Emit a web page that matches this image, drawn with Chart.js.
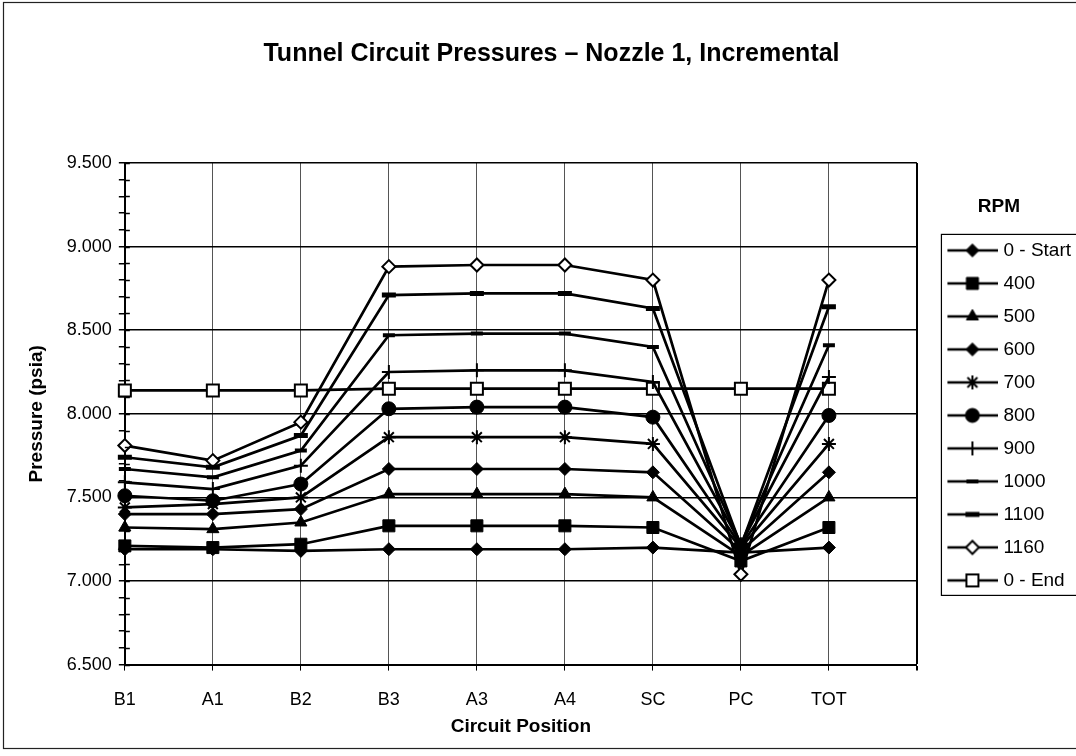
<!DOCTYPE html>
<html>
<head>
<meta charset="utf-8">
<script src="https://cdn.jsdelivr.net/npm/chart.js@4.4.1/dist/chart.umd.min.js"></script>
<style>
  html, body { margin: 0; padding: 0; background: #fff; }
  #wrap { width: 1076px; height: 756px; overflow: hidden; }
  canvas { display: block; }
</style>
</head>
<body>
<div id="wrap"><canvas id="myChart" width="1090" height="756"></canvas></div>
<script>
"use strict";

// circuit positions, last slot is left empty like the original sheet
const positions = ["B1", "A1", "B2", "B3", "A3", "A4", "SC", "PC", "TOT", ""];
const rpmNames = ["0 - Start", "400", "500", "600", "700", "800", "900", "1000", "1100", "1160", "0 - End"];

const rpm0Start = [7.19, 7.19, 7.18, 7.19, 7.19, 7.19, 7.20, 7.17, 7.20];
const rpm400 = [7.21, 7.20, 7.22, 7.33, 7.33, 7.33, 7.32, 7.12, 7.32];
const rpm500 = [7.32, 7.31, 7.35, 7.52, 7.52, 7.52, 7.50, 7.15, 7.50];
const rpm600 = [7.40, 7.40, 7.43, 7.67, 7.67, 7.67, 7.65, 7.18, 7.65];
const rpm700 = [7.44, 7.46, 7.50, 7.86, 7.86, 7.86, 7.82, 7.20, 7.82];
const rpm800 = [7.51, 7.48, 7.58, 8.03, 8.04, 8.04, 7.98, 7.21, 7.99];
const rpm900 = [7.59, 7.55, 7.69, 8.25, 8.26, 8.26, 8.19, 7.22, 8.22];
const rpm1000 = [7.67, 7.62, 7.78, 8.47, 8.48, 8.48, 8.40, 7.22, 8.41];
const rpm1100 = [7.74, 7.68, 7.87, 8.71, 8.72, 8.72, 8.63, 7.21, 8.64];
const rpm1160 = [7.81, 7.72, 7.95, 8.88, 8.89, 8.89, 8.80, 7.04, 8.80];
const rpm0End = [8.14, 8.14, 8.14, 8.15, 8.15, 8.15, 8.15, 8.15, 8.15];

const yMin = 6.5;
const yMax = 9.5;

const seriesData = [rpm0Start, rpm400, rpm500, rpm600, rpm700, rpm800, rpm900, rpm1000, rpm1100, rpm1160, rpm0End];

// marker look for each series (excel style)
const markers = [
  { style: "rectRot", radius: 6.5, border: 1, fill: "#000" },
  { style: "rect", radius: 8.5, border: 1, fill: "#000" },
  { style: "triangle", radius: 7, border: 1, fill: "#000" },
  { style: "rectRot", radius: 6.5, border: 1, fill: "#000" },
  { style: "star", radius: 7, border: 2, fill: "#000" },
  { style: "circle", radius: 7, border: 1, fill: "#000" },
  { style: "cross", radius: 7, border: 2, fill: "#000" },
  { style: "line", radius: 6, border: 4, fill: "#000" },
  { style: "line", radius: 7, border: 5, fill: "#000" },
  { style: "rectRot", radius: 6.5, border: 2, fill: "#fff" },
  { style: "rect", radius: 8.5, border: 2, fill: "#fff" },
];

const font = "'Liberation Sans', Arial, sans-serif";
const iconW = 72;
const iconH = 22;

const makeIcon = (m) => {
  const c = document.createElement("canvas");
  c.width = iconW;
  c.height = iconH;
  const ctx = c.getContext("2d");
  ctx.strokeStyle = "#000";
  ctx.lineWidth = 2.5;
  ctx.beginPath();
  ctx.moveTo(21, iconH / 2);
  ctx.lineTo(iconW, iconH / 2);
  ctx.stroke();
  ctx.fillStyle = m.fill;
  ctx.lineWidth = m.border;
  Chart.helpers.drawPoint(
    ctx,
    { pointStyle: m.style, radius: m.radius, borderWidth: m.border, rotation: 0 },
    46,
    iconH / 2
  );
  return c;
};

const isMajor = (v) => Math.round(v * 10) % 5 === 0;

const datasets = rpmNames.map((name, i) => ({
  label: name,
  data: seriesData[i],
  borderColor: "#000",
  borderWidth: 2.7,
  pointStyle: markers[i].style,
  pointRadius: markers[i].radius,
  pointBorderWidth: markers[i].border,
  pointBackgroundColor: markers[i].fill,
  pointBorderColor: "#000",
  tension: 0,
  fill: false,
}));

const framePlugin = {
  id: "frame",
  beforeDraw(chart) {
    const ctx = chart.ctx;
    ctx.save();
    ctx.fillStyle = "#fff";
    ctx.fillRect(0, 0, chart.width, chart.height);
    ctx.strokeStyle = "#222";
    ctx.lineWidth = 1.2;
    ctx.strokeRect(3.5, 2.5, chart.width - 6, 746);
    ctx.restore();
  },
  afterDraw(chart) {
    const ctx = chart.ctx;
    // inner half of the y axis tick marks
    const y = chart.scales.y;
    ctx.save();
    ctx.strokeStyle = "#000";
    ctx.lineWidth = 1.5;
    y.ticks.forEach((t) => {
      const py = Math.round(y.getPixelForValue(t.value)) + 0.5;
      ctx.beginPath();
      ctx.moveTo(y.right, py);
      ctx.lineTo(y.right + 5, py);
      ctx.stroke();
    });
    // box around legend items
    const boxes = chart.legend.legendHitBoxes;
    if (boxes && boxes.length) {
      const left = Math.min(...boxes.map((b) => b.left));
      const top = Math.min(...boxes.map((b) => b.top));
      const bottom = Math.max(...boxes.map((b) => b.top + b.height));
      const right = Math.max(...boxes.map((b) => b.left + b.width));
      ctx.lineWidth = 1.2;
      ctx.strokeRect(left + 10.5, top - 6.5, right - left + 4, bottom - top + 12);
    }
    ctx.restore();
  },
};

const config = {
  type: "line",
  data: { labels: positions, datasets },
  options: {
    responsive: false,
    animation: false,
    events: [],
    layout: { padding: { left: 22, right: 9, top: 10, bottom: 14 } },
    scales: {
      x: {
        grid: {
          color: (c) => (c.index === positions.length - 1 ? "#000" : "#555"),
          lineWidth: (c) => (c.index === positions.length - 1 ? 2 : 1),
          tickColor: "#000",
          tickLength: 6,
        },
        border: { color: "#000", width: 2 },
        ticks: {
          autoSkip: false,
          maxRotation: 0,
          padding: 19,
          color: "#000",
          font: { family: font, size: 18 },
        },
        title: {
          display: true,
          text: "Circuit Position",
          color: "#000",
          font: { family: font, size: 19, weight: "bold" },
          padding: { top: -15, bottom: 4 },
        },
      },
      y: {
        min: yMin,
        max: yMax,
        grid: {
          color: (c) => (c.tick && isMajor(c.tick.value) ? "#000" : "rgba(0,0,0,0)"),
          lineWidth: 1.5,
          tickColor: "#000",
          tickWidth: 1.5,
          tickLength: 6,
        },
        border: { color: "#000", width: 2 },
        ticks: {
          stepSize: 0.1,
          autoSkip: false,
          padding: 7,
          color: "#000",
          font: { family: font, size: 18 },
          callback: (v) => (isMajor(v) ? (Math.round(v * 10) / 10).toFixed(3) : ""),
        },
        title: {
          display: true,
          text: "Pressure (psia)",
          color: "#000",
          font: { family: font, size: 19, weight: "bold" },
          padding: { top: 3, bottom: 12 },
        },
      },
    },
    plugins: {
      title: {
        display: true,
        text: "Tunnel Circuit Pressures \u2013 Nozzle 1, Incremental",
        color: "#000",
        font: { family: font, size: 25, weight: "bold" },
        padding: { top: 29, bottom: 94 },
      },
      legend: {
        position: "right",
        title: {
          display: true,
          text: "RPM",
          color: "#000",
          font: { family: font, size: 19, weight: "bold" },
          padding: { top: 49, bottom: 7 },
        },
        labels: {
          color: "#000",
          font: { family: font, size: 19 },
          usePointStyle: true,
          pointStyleWidth: 63,
          padding: 14,
          generateLabels: (chart) =>
            chart.data.datasets.map((ds, i) => ({
              text: ds.label,
              pointStyle: makeIcon(markers[i]),
              fillStyle: "#000",
              strokeStyle: "#000",
              lineWidth: 0,
              fontColor: "#000",
              hidden: false,
              datasetIndex: i,
            })),
        },
      },
      tooltip: { enabled: false },
    },
  },
  plugins: [framePlugin],
};

const myChart = new Chart(document.getElementById("myChart"), config);
</script>
</body>
</html>
